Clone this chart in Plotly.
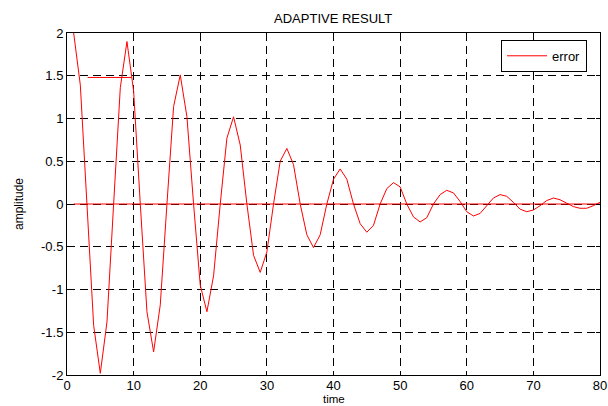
import plotly.graph_objects as go

time = list(range(1, 81))
error = [
    2.00, 1.39, -0.01, -1.42, -1.98, -1.38, 0.00, 1.36, 1.90, 1.32,
    0.00, -1.26, -1.73, -1.18, 0.00, 1.14, 1.51, 1.02, 0.00, -0.95,
    -1.26, -0.84, 0.00, 0.77, 1.02, 0.69, 0.00, -0.60, -0.80, -0.56,
    0.00, 0.50, 0.65, 0.46, 0.00, -0.36, -0.51, -0.36, 0.00, 0.29,
    0.41, 0.29, 0.00, -0.23, -0.33, -0.25, 0.00, 0.18, 0.25, 0.20,
    0.00, -0.15, -0.21, -0.16, 0.00, 0.11, 0.16, 0.13, 0.03, -0.09,
    -0.14, -0.11, -0.02, 0.07, 0.11, 0.09, 0.02, -0.06, -0.09, -0.07,
    -0.02, 0.04, 0.07, 0.05, 0.01, -0.03, -0.05, -0.05, -0.02, 0.02,
]
baseline_x = [1, 80]
baseline_y = [0.0, 0.0]
stray_x = [3.1, 9.7]
stray_y = [1.48, 1.48]

x_ticks = [0, 10, 20, 30, 40, 50, 60, 70, 80]
y_ticks = [-2, -1.5, -1, -0.5, 0, 0.5, 1, 1.5, 2]
y_tick_labels = ["-2", "-1.5", "-1", "-0.5", "0", "0.5", "1", "1.5", "2"]

RED = "#ff0000"
FONT = "Liberation Sans, Arial, sans-serif"

fig = go.Figure()
fig.add_trace(go.Scatter(x=time, y=error, mode="lines", name="error",
                         line=dict(color=RED, width=1)))
fig.add_trace(go.Scatter(x=baseline_x, y=baseline_y, mode="lines", showlegend=False,
                         line=dict(color=RED, width=1), hoverinfo="skip"))
fig.add_trace(go.Scatter(x=stray_x, y=stray_y, mode="lines", showlegend=False,
                         line=dict(color=RED, width=1), hoverinfo="skip"))

axis_common = dict(
    showline=True, mirror="allticks", linecolor="black", linewidth=1,
    ticks="inside", ticklen=4, tickcolor="black",
    showgrid=True, gridcolor="black", gridwidth=1, griddash="8px,5px",
    zeroline=False, automargin=False,
    tickfont=dict(family=FONT, size=13, color="black"),
)

fig.update_layout(
    width=608, height=406,
    margin=dict(l=67, r=8, t=33, b=31),
    paper_bgcolor="white", plot_bgcolor="white",
    font=dict(family=FONT, size=13, color="black"),
    title=dict(text="ADAPTIVE RESULT", x=0.548, xanchor="center", y=0.955, yanchor="middle",
               font=dict(family=FONT, size=13, color="black")),
    xaxis=dict(range=[0, 80], tickvals=x_ticks, ticklabelstandoff=-2, **axis_common),
    yaxis=dict(range=[-2, 2], tickvals=y_ticks, ticktext=y_tick_labels, **axis_common,
               title=dict(text="amplitude", standoff=14, font=dict(family=FONT, size=12))),
    legend=dict(x=0.9756, y=0.98, xanchor="right", yanchor="top",
                bgcolor="white", bordercolor="black", borderwidth=1,
                font=dict(family=FONT, size=13, color="black"),
                itemwidth=40),
    showlegend=True,
    annotations=[dict(text="time", xref="paper", yref="paper", x=0.5, y=0,
                      xanchor="center", yanchor="top", yshift=-17, showarrow=False,
                      borderpad=0, font=dict(family=FONT, size=11.5, color="black"))],
)

fig.write_html("out.html", config={"displayModeBar": False},
               post_script="document.body.style.margin='0px';document.body.style.overflow='hidden';")
